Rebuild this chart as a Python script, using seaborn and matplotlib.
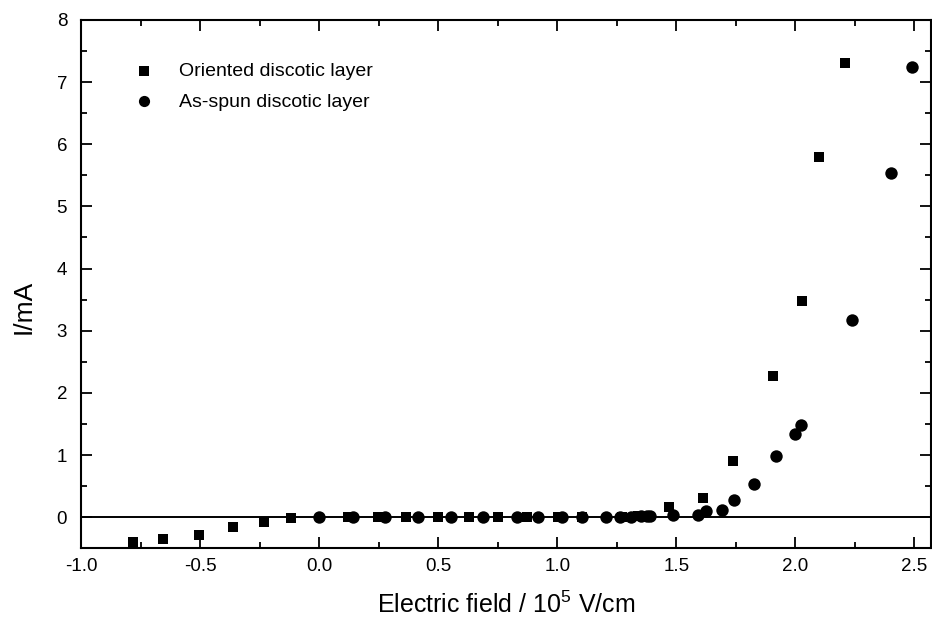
import numpy as np
import pandas as pd
import matplotlib
matplotlib.use("Agg")
import matplotlib.pyplot as plt
import seaborn as sns
from matplotlib.ticker import MultipleLocator

# Data (x in 10^5 V/cm, y in mA)
oriented_x = [-0.78, -0.655, -0.505, -0.36, -0.23, -0.117, 0.123, 0.245, 0.365, 0.498,
              0.628, 0.753, 0.873, 1.003, 1.105, 1.27, 1.34, 1.47, 1.614, 1.737,
              1.906, 2.03, 2.10, 2.21]
oriented_y = [-0.40, -0.35, -0.28, -0.16, -0.08, -0.02, 0.0, 0.0, 0.0, 0.0,
              0.0, 0.0, 0.0, 0.0, 0.0, 0.01, 0.02, 0.17, 0.31, 0.90,
              2.28, 3.48, 5.80, 7.31]

asspun_x = [0.0, 0.14, 0.275, 0.414, 0.552, 0.69, 0.83, 0.918, 1.02, 1.105,
            1.205, 1.265, 1.31, 1.35, 1.375, 1.39, 1.485, 1.593, 1.624, 1.692,
            1.741, 1.827, 1.918, 1.997, 2.024, 2.24, 2.40, 2.49]
asspun_y = [0.0, 0.0, 0.0, 0.0, 0.0, 0.0, 0.0, 0.0, 0.0, 0.0,
            0.0, 0.01, 0.01, 0.02, 0.02, 0.02, 0.04, 0.04, 0.10, 0.12,
            0.28, 0.53, 0.99, 1.34, 1.49, 3.17, 5.53, 7.25]

x_ticks = [-1.0, -0.5, 0.0, 0.5, 1.0, 1.5, 2.0, 2.5]
x_ticklabels = ['-1.0', '-0.5', '0.0', '0.5', '1.0', '1.5', '2.0', '2.5']

sns.set_style("ticks")
plt.rcParams['font.family'] = ['Liberation Sans', 'DejaVu Sans']
plt.rcParams['mathtext.fontset'] = 'custom'
plt.rcParams['mathtext.rm'] = 'Liberation Sans'
plt.rcParams['text.color'] = 'black'
plt.rcParams['axes.labelcolor'] = 'black'

df_or = pd.DataFrame({'E': oriented_x, 'I': oriented_y})
df_as = pd.DataFrame({'E': asspun_x, 'I': asspun_y})

fig = plt.figure(figsize=(9.32, 6.21), dpi=100)
ax = fig.add_axes([0.087, 0.117, 0.912, 0.851])

ax.axhline(0, color='black', lw=1.4, zorder=1)
sns.scatterplot(data=df_or, x='E', y='I', marker='s', s=55, color='black',
                linewidth=0, label='Oriented discotic layer', ax=ax, zorder=3)
sns.scatterplot(data=df_as, x='E', y='I', marker='o', s=80, color='black',
                linewidth=0, label='As-spun discotic layer', ax=ax, zorder=3)

ax.set_xlim(-1.0, 2.57)
ax.set_ylim(-0.5, 8)
ax.xaxis.set_minor_locator(MultipleLocator(0.25))
ax.yaxis.set_minor_locator(MultipleLocator(0.5))
ax.set_xticks(x_ticks)
ax.set_xticklabels(x_ticklabels)
ax.set_yticks(range(0, 9))

ax.tick_params(which='both', direction='in', top=True, right=True,
               labelsize=13.5, colors='black', width=1.3)
ax.tick_params(which='major', length=8)
ax.tick_params(axis='x', which='major', pad=7)
ax.tick_params(axis='y', which='major', pad=10)
ax.tick_params(which='minor', length=4.5)
for sp in ax.spines.values():
    sp.set_linewidth(1.5)
    sp.set_color('black')
    sp.set_visible(True)

ax.set_xlabel('Electric field / 10$^5$ V/cm', fontsize=18, labelpad=12)
ax.set_ylabel('I/mA', fontsize=19)
ax.yaxis.set_label_coords(-0.054, 0.456)

leg = ax.legend(loc='upper left', frameon=False, fontsize=14,
                bbox_to_anchor=(0.03, 0.952), handletextpad=0.8,
                labelspacing=0.65, markerscale=0.9)

fig.savefig('out.png', dpi=100)
